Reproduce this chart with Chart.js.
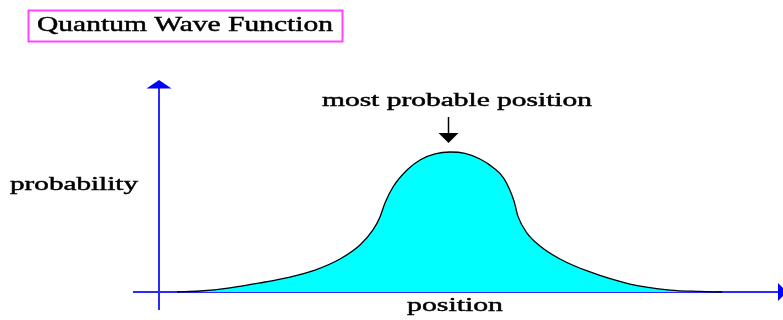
<!DOCTYPE html>
<html>
<head>
<meta charset="utf-8">
<script src="https://cdn.jsdelivr.net/npm/chart.js@4"></script>
<style>
  html, body { margin: 0; padding: 0; background: #fff; }
  #wrap { width: 783px; height: 320px; position: relative; }
</style>
</head>
<body>
<div id="wrap"><canvas id="c" width="783" height="320"></canvas></div>
<script>
// Position along the axis (arbitrary units, 0 at the vertical axis)
const positions = [18, 41, 71, 101, 131, 156, 181, 201, 214, 221, 226, 234, 248, 261, 276, 291,
                   306, 321, 334, 345, 355, 359, 368, 381, 401, 431, 471, 511, 541, 563];
// Probability (normalised, peak = 1)
const probability = [0, 0.007, 0.03, 0.065, 0.107, 0.157, 0.236, 0.336, 0.443, 0.536, 0.636, 0.75, 0.871, 0.943, 0.986, 1.0,
                     0.99, 0.95, 0.89, 0.81, 0.65, 0.54, 0.421, 0.329, 0.236, 0.143, 0.057, 0.014, 0.004, 0];

const titleText = 'Quantum Wave Function';
const yLabel = 'probability';
const xLabel = 'position';
const peakLabel = 'most probable position';
const peakPosition = 289;

const xMin = -26, xMax = 624;
const yMin = -0.1286, yMax = 1.5143;

function stretchText(ctx, text, left, baseline, width, font) {
  ctx.save();
  ctx.font = font;
  ctx.fillStyle = '#000';
  ctx.strokeStyle = '#000';
  ctx.lineWidth = 0.45;
  ctx.textBaseline = 'alphabetic';
  ctx.textAlign = 'left';
  const w = ctx.measureText(text).width;
  const s = width / w;
  ctx.translate(left, baseline);
  ctx.scale(s, 1);
  ctx.fillText(text, 0, 0);
  ctx.strokeText(text, 0, 0);
  ctx.restore();
}

const decor = {
  id: 'decor',
  beforeDatasetsDraw(chart) {
    const ctx = chart.ctx;
    const xs = chart.scales.x, ys = chart.scales.y;
    const x0 = xs.getPixelForValue(0);
    const y0 = ys.getPixelForValue(0);
    const left = xs.getPixelForValue(xMin);
    const right = xs.getPixelForValue(xMax);
    const top = ys.getPixelForValue(yMax);
    const bottom = ys.getPixelForValue(yMin);
    ctx.save();
    ctx.strokeStyle = '#2a2aff';
    ctx.fillStyle = '#0000ff';
    ctx.lineWidth = 2;
    // x axis
    ctx.beginPath();
    ctx.moveTo(left, y0);
    ctx.lineTo(right - 4, y0);
    ctx.stroke();
    ctx.beginPath();
    ctx.moveTo(right - 5, y0 - 9);
    ctx.lineTo(right + 4, y0);
    ctx.lineTo(right - 5, y0 + 9);
    ctx.closePath();
    ctx.fill();
    // y axis
    ctx.beginPath();
    ctx.moveTo(x0, bottom);
    ctx.lineTo(x0, top + 6);
    ctx.stroke();
    ctx.beginPath();
    ctx.moveTo(x0 - 12.5, top + 8.5);
    ctx.lineTo(x0, top);
    ctx.lineTo(x0 + 12.5, top + 8.5);
    ctx.closePath();
    ctx.fill();
    ctx.restore();
  },
  afterDraw(chart) {
    const ctx = chart.ctx;
    const xs = chart.scales.x;
    // title box
    ctx.save();
    ctx.strokeStyle = '#ff44ff';
    ctx.lineWidth = 2;
    ctx.strokeRect(28.5, 10.5, 314, 31);
    ctx.restore();
    stretchText(ctx, titleText, 37, 31, 296, '21px "Liberation Serif", serif');
    stretchText(ctx, peakLabel, 322, 106, 270, '18px "Liberation Serif", serif');
    stretchText(ctx, yLabel, 10, 190, 128, '19px "Liberation Serif", serif');
    stretchText(ctx, xLabel, 407, 311, 96, '19px "Liberation Serif", serif');
    // arrow to peak
    const ax = Math.round(xs.getPixelForValue(peakPosition)) + 0.5;
    ctx.save();
    ctx.strokeStyle = '#000';
    ctx.fillStyle = '#000';
    ctx.lineWidth = 1.5;
    ctx.beginPath();
    ctx.moveTo(ax, 117);
    ctx.lineTo(ax, 135);
    ctx.stroke();
    ctx.beginPath();
    ctx.moveTo(ax - 10, 133);
    ctx.lineTo(ax + 10, 133);
    ctx.lineTo(ax, 143);
    ctx.closePath();
    ctx.fill();
    ctx.restore();
  }
};

new Chart(document.getElementById('c'), {
  type: 'line',
  data: {
    datasets: [{
      data: positions.map((p, i) => ({ x: p, y: probability[i] })),
      borderColor: '#000',
      borderWidth: 1.3,
      backgroundColor: '#00ffff',
      fill: 'origin',
      pointRadius: 0,
      cubicInterpolationMode: 'monotone'
    }]
  },
  options: {
    responsive: false,
    animation: false,
    layout: { padding: { left: 133, right: 0, top: 80, bottom: 10 } },
    plugins: { legend: { display: false }, tooltip: { enabled: false }, title: { display: false } },
    scales: {
      x: { type: 'linear', min: xMin, max: xMax, display: false },
      y: { type: 'linear', min: yMin, max: yMax, display: false }
    }
  },
  plugins: [decor]
});
</script>
</body>
</html>
